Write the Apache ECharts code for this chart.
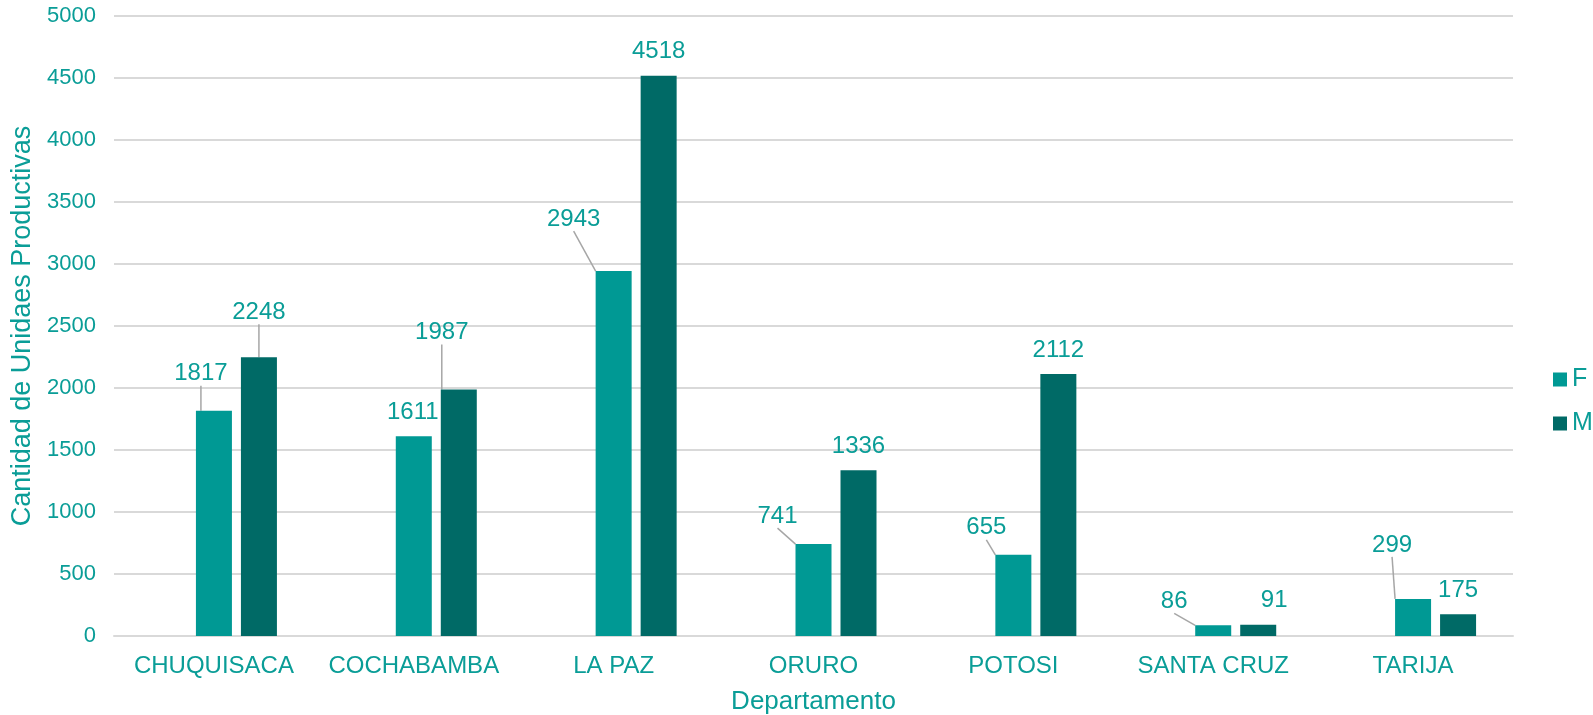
<!DOCTYPE html>
<html>
<head>
<meta charset="utf-8">
<script src="https://cdn.jsdelivr.net/npm/echarts@6/dist/echarts.min.js"></script>
<style>
  html, body { margin: 0; padding: 0; background: #fff; }
  #chart { width: 1593px; height: 715px; }
</style>
</head>
<body>
<div id="chart"></div>
<script>
// datos
const departamentos = ['CHUQUISACA', 'COCHABAMBA', 'LA PAZ', 'ORURO', 'POTOSI', 'SANTA CRUZ', 'TARIJA'];
const valoresF = [1817, 1611, 2943, 741, 655, 86, 299];
const valoresM = [2248, 1987, 4518, 1336, 2112, 91, 175];
const yTicks = { min: 0, max: 5000, interval: 500 };

// desplazamiento de etiquetas (como en el original) y si llevan línea guía
const shiftF = [[-13, -13], [-1, 0], [-40, -28], [-36, -4], [-27, -3], [-39, 0], [-21, -30]];
const shiftM = [[0, -21], [-17, -33], [0, 0], [0, 0], [0, 0], [16, 0], [0, 0]];
const lineF = [true, false, true, true, true, true, true];
const lineM = [true, true, false, false, false, false, false];

const TEAL_TEXT = '#0A9D97';
const FONT = 'Liberation Sans, Arial, sans-serif';

function buildData(values, lines) {
  return values.map((v, i) => ({ value: v, labelLine: { show: lines[i] } }));
}

const labelStyle = {
  show: true,
  position: 'top',
  distance: 12,
  fontSize: 24,
  color: TEAL_TEXT,
  fontFamily: FONT
};

const chart = echarts.init(document.getElementById('chart'));
chart.setOption({
  animation: false,
  grid: { left: 114, right: 80, top: 16, bottom: 79, outerBoundsMode: 'none' },
  legend: {
    data: ['F', 'M'],
    orient: 'vertical',
    left: 1553,
    top: 367,
    padding: 0,
    itemWidth: 14,
    itemHeight: 14,
    itemGap: 19,
    icon: 'rect',
    textStyle: { fontSize: 25, color: TEAL_TEXT, fontFamily: FONT }
  },
  xAxis: {
    type: 'category',
    data: departamentos,
    name: 'Departamento',
    nameLocation: 'middle',
    nameGap: 53,
    nameTextStyle: { fontSize: 26, color: TEAL_TEXT, fontFamily: FONT },
    axisLine: { lineStyle: { color: '#D9D9D9', width: 2 } },
    axisTick: { show: false },
    axisLabel: { fontSize: 24, color: TEAL_TEXT, fontFamily: FONT, margin: 18, interval: 0 }
  },
  yAxis: {
    type: 'value',
    min: yTicks.min,
    max: yTicks.max,
    interval: yTicks.interval,
    name: 'Cantidad de Unidaes Productivas',
    nameLocation: 'middle',
    nameGap: 72,
    nameTextStyle: { fontSize: 27, color: TEAL_TEXT, fontFamily: FONT },
    axisLine: { show: false },
    axisTick: { show: false },
    axisLabel: { fontSize: 22, color: TEAL_TEXT, fontFamily: FONT, margin: 18, formatter: v => String(v) },
    splitLine: { lineStyle: { color: '#D9D9D9', width: 2 } }
  },
  series: [
    {
      // serie vacía que ocupa el primer hueco (como en el gráfico original)
      name: '',
      type: 'bar',
      data: [],
      barWidth: 36,
      barGap: '25%'
    },
    {
      name: 'F',
      type: 'bar',
      data: buildData(valoresF, lineF),
      barWidth: 36,
      barGap: '25%',
      itemStyle: { color: '#009994' },
      label: labelStyle,
      labelLine: { show: false, lineStyle: { color: '#A6A6A6', width: 1.5 } },
      labelLayout: p => ({ dx: shiftF[p.dataIndex][0], dy: shiftF[p.dataIndex][1] })
    },
    {
      name: 'M',
      type: 'bar',
      data: buildData(valoresM, lineM),
      barWidth: 36,
      barGap: '25%',
      itemStyle: { color: '#006A66' },
      label: labelStyle,
      labelLine: { show: false, lineStyle: { color: '#A6A6A6', width: 1.5 } },
      labelLayout: p => ({ dx: shiftM[p.dataIndex][0], dy: shiftM[p.dataIndex][1] })
    }
  ]
});
window.addEventListener('resize', () => chart.resize());
</script>
</body>
</html>
